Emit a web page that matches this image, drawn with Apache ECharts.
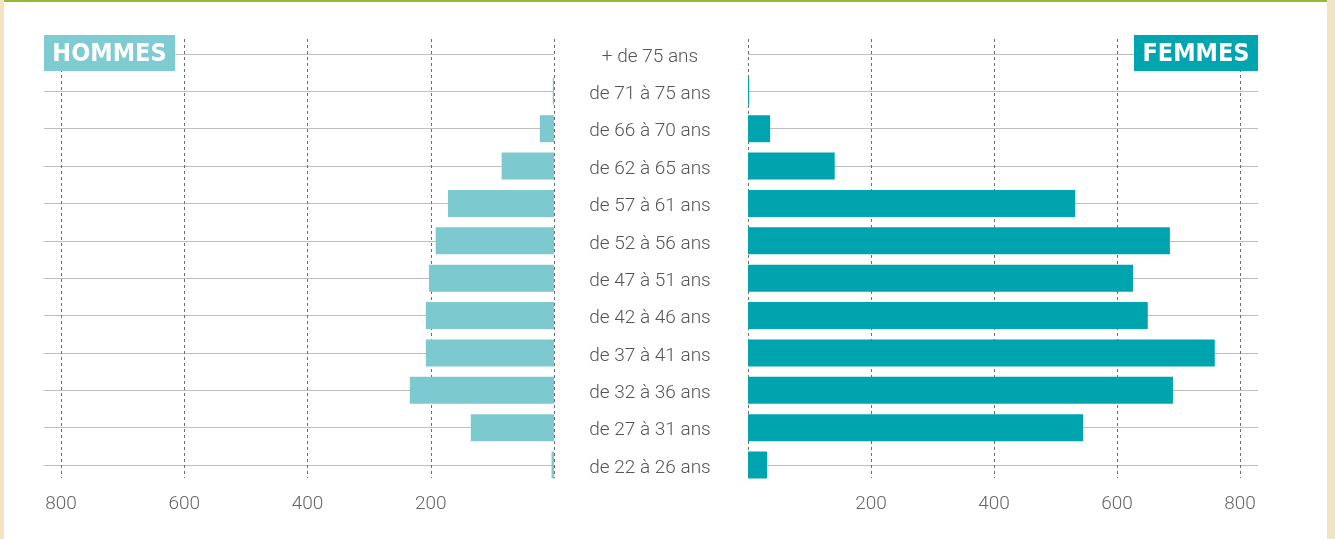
<!DOCTYPE html>
<html><head><meta charset="utf-8">
<script src="https://cdn.jsdelivr.net/npm/echarts@6/dist/echarts.min.js"></script>
<style>
html,body{margin:0;padding:0;background:#f2e4c2;width:1335px;height:539px;overflow:hidden;}
#panel{position:absolute;left:4px;top:0;width:1323px;height:539px;background:#fff;border-top:2px solid #93bb2b;box-sizing:border-box;}
#chart{position:absolute;left:0;top:0;width:1335px;height:539px;}
</style></head><body>
<div id="panel"></div><div id="chart"></div>
<script>
// Data (top row first)
const categories = ['+ de 75 ans','de 71 à 75 ans','de 66 à 70 ans','de 62 à 65 ans','de 57 à 61 ans','de 52 à 56 ans','de 47 à 51 ans','de 42 à 46 ans','de 37 à 41 ans','de 32 à 36 ans','de 27 à 31 ans','de 22 à 26 ans'];
const hommes = [0, 2, 23, 85, 172, 192, 203, 208, 208, 234, 135, 4];
const femmes = [0, 2, 36, 141, 532, 686, 626, 650, 759, 691, 545, 31];
const axisMax = 800;
const tickStep = 200;
const labelHommes = 'HOMMES';
const labelFemmes = 'FEMMES';

const chart = echarts.init(document.getElementById('chart'), null, {renderer:'canvas'});
const tickFont = {fontFamily:'Roboto, "Liberation Sans", sans-serif', fontWeight:300, fontSize:19, color:'#666'};
const dashed = {show:true, lineStyle:{color:'#6e6e6e', type:[3,3], width:1}};
const hLines = {show:true, lineStyle:{color:'#bdbdbd', width:1}};
function g(left, top, width, height){return {left, top, width, height, containLabel:false, outerBoundsMode:'none'};}

const option = {
  animation:false,
  backgroundColor:'transparent',
  grid:[
    g(44,54,510,411),   // 0 left lines
    g(61,54,493,411),   // 1 left bars
    g(61,39,493,439),   // 2 left dashed
    g(748,54,510,411),  // 3 right lines
    g(748,54,492,411),  // 4 right bars
    g(748,39,492,439),  // 5 right dashed
    g(748,57,492,411)   // 6 middle category labels
  ],
  xAxis:[
    {gridIndex:0, type:'value', show:false},
    {gridIndex:1, type:'value', min:0, max:axisMax, inverse:true, show:false},
    {gridIndex:2, type:'value', min:0, max:axisMax, interval:tickStep, inverse:true,
      axisLine:{show:false}, axisTick:{show:false}, splitLine:dashed,
      axisLabel:Object.assign({margin:17, showMinLabel:false}, tickFont)},
    {gridIndex:3, type:'value', show:false},
    {gridIndex:4, type:'value', min:0, max:axisMax, show:false},
    {gridIndex:5, type:'value', min:0, max:axisMax, interval:tickStep,
      axisLine:{show:false}, axisTick:{show:false}, splitLine:dashed,
      axisLabel:Object.assign({margin:17, showMinLabel:false}, tickFont)},
    {gridIndex:6, type:'value', show:false}
  ],
  yAxis:[
    {gridIndex:0, type:'category', data:categories, boundaryGap:false, inverse:true,
      axisLine:{show:false}, axisTick:{show:false}, axisLabel:{show:false}, splitLine:hLines},
    {gridIndex:1, type:'category', data:categories, boundaryGap:false, inverse:true, show:false},
    {gridIndex:2, type:'value', show:false},
    {gridIndex:3, type:'category', data:categories, boundaryGap:false, inverse:true,
      axisLine:{show:false}, axisTick:{show:false}, axisLabel:{show:false}, splitLine:hLines},
    {gridIndex:4, type:'category', data:categories, boundaryGap:false, inverse:true, show:false},
    {gridIndex:5, type:'value', show:false},
    {gridIndex:6, type:'category', data:categories, boundaryGap:false, inverse:true,
      axisLine:{show:false}, axisTick:{show:false}, splitLine:{show:false},
      axisLabel:{margin:98, align:'center', fontFamily:'Roboto, "Liberation Sans", sans-serif', fontWeight:300, fontSize:19, color:'#555', interval:0}}
  ],
  series:[
    {name:'Hommes', type:'bar', xAxisIndex:1, yAxisIndex:1, data:hommes, barWidth:27, clip:false,
      itemStyle:{color:'#7ccad0'}, z:3},
    {name:'Femmes', type:'bar', xAxisIndex:4, yAxisIndex:4, data:femmes, barWidth:27, clip:false,
      itemStyle:{color:'#00a4af'}, z:3}
  ],
  graphic:[
    {type:'rect', shape:{x:44,y:35,width:131,height:36}, style:{fill:'#7ecbd1'}, z:100},
    {type:'text', x:109.5, y:54, z:101, style:{text:labelHommes, fill:'#fff', fontFamily:'"DejaVu Sans Condensed", "DejaVu Sans"', fontWeight:'bold', fontSize:25, align:'center', verticalAlign:'middle'}},
    {type:'rect', shape:{x:1134,y:35,width:124,height:36}, style:{fill:'#00a5b0'}, z:100},
    {type:'text', x:1196, y:54, z:101, style:{text:labelFemmes, fill:'#fff', fontFamily:'"DejaVu Sans Condensed", "DejaVu Sans"', fontWeight:'bold', fontSize:25, align:'center', verticalAlign:'middle'}}
  ]
};
chart.setOption(option);
</script>
</body></html>
